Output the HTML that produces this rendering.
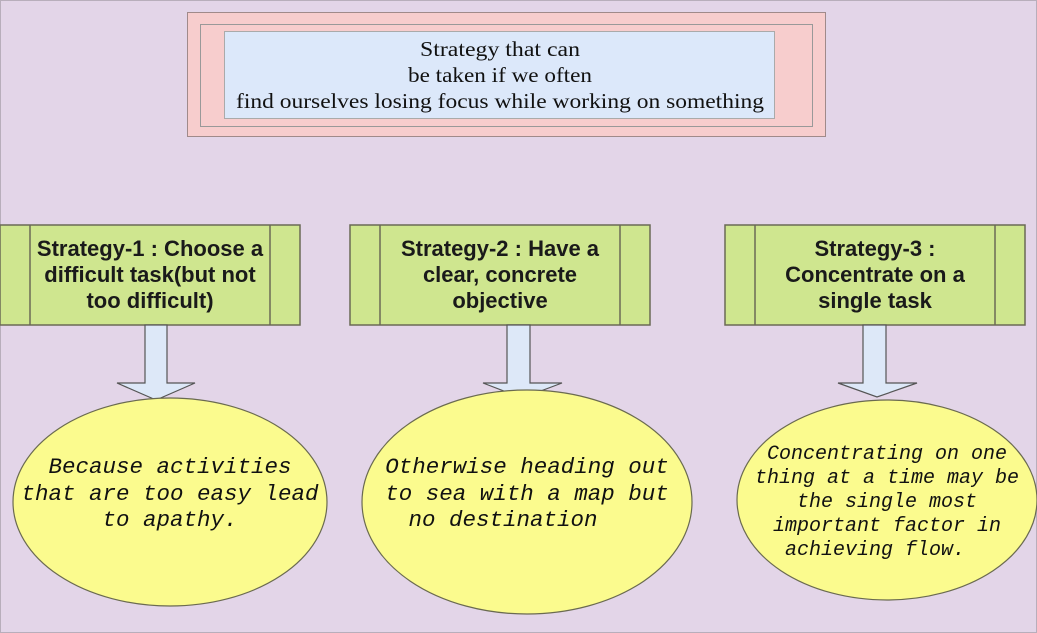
<!DOCTYPE html>
<html><head><meta charset="utf-8"><style>
html,body{margin:0;padding:0;background:#e3d5e8;}
svg{display:block}
</style></head><body>
<svg width="1037" height="633" viewBox="0 0 1037 633" xmlns="http://www.w3.org/2000/svg">
<rect x="0" y="0" width="1037" height="633" fill="#e3d5e8"/>
<rect x="0.5" y="0.5" width="1036" height="632" fill="none" stroke="#b8aebb" stroke-width="1"/>
<!-- top -->
<rect x="187.5" y="12.5" width="638" height="124" fill="#f7cdcd" stroke="#a08a8a"/>
<rect x="200.5" y="24.5" width="612" height="102" fill="none" stroke="#999"/>
<rect x="224.5" y="31.5" width="550" height="87" fill="#dce8fa" stroke="#aaa"/>
<g font-family="Liberation Serif, serif" font-size="21" fill="#111" lengthAdjust="spacingAndGlyphs">
<text x="420" y="56" textLength="160" lengthAdjust="spacingAndGlyphs">Strategy that can</text>
<text x="408" y="82" textLength="184" lengthAdjust="spacingAndGlyphs">be taken if we often</text>
<text x="236" y="108" textLength="528" lengthAdjust="spacingAndGlyphs">find ourselves losing focus while working on something</text>
</g>
<!-- strategy boxes -->
<g fill="#cfe68f" stroke="#6a6a55" stroke-width="1.5">
<rect x="0" y="225" width="300" height="100"/>
<line x1="30" y1="225" x2="30" y2="325"/><line x1="270" y1="225" x2="270" y2="325"/>
<rect x="350" y="225" width="300" height="100"/>
<line x1="380" y1="225" x2="380" y2="325"/><line x1="620" y1="225" x2="620" y2="325"/>
<rect x="725" y="225" width="300" height="100"/>
<line x1="755" y1="225" x2="755" y2="325"/><line x1="995" y1="225" x2="995" y2="325"/>
</g>
<g font-family="Liberation Sans, sans-serif" font-weight="bold" font-size="22" fill="#1a1a1a" text-anchor="middle">
<text x="150" y="256">Strategy-1 : Choose a</text>
<text x="150" y="282">difficult task(but not</text>
<text x="150" y="308">too difficult)</text>
<text x="500" y="256">Strategy-2 : Have a</text>
<text x="500" y="282">clear, concrete</text>
<text x="500" y="308">objective</text>
<text x="875" y="256">Strategy-3 :</text>
<text x="875" y="282">Concentrate on a</text>
<text x="875" y="308">single task</text>
</g>
<!-- arrows -->
<g fill="#dde8f8" stroke="#555" stroke-width="1.2">
<polygon points="145,325 167,325 167,383 195,383 156,400 117,383 145,383"/>
<polygon points="507,325 530,325 530,383 562,383 522,398 483,383 507,383"/>
<polygon points="863,325 886,325 886,383 917,383 877,397 838,383 863,383"/>
</g>
<!-- ellipses -->
<g fill="#fbfb8e" stroke="#6a6a50" stroke-width="1.2">
<ellipse cx="170" cy="502" rx="157" ry="104"/>
<ellipse cx="527" cy="502" rx="165" ry="112"/>
<ellipse cx="887" cy="500" rx="150" ry="100"/>
</g>
<g font-family="Liberation Mono, monospace" font-style="italic" font-size="22.5" fill="#111" text-anchor="middle">
<text x="170" y="473">Because activities</text>
<text x="170" y="500">that are too easy lead</text>
<text x="170" y="526">to apathy.</text>
<text x="527" y="473">Otherwise heading out</text>
<text x="527" y="500">to sea with a map but</text>
<text x="503" y="526">no destination</text>
</g>
<g font-family="Liberation Mono, monospace" font-style="italic" font-size="20" fill="#111" text-anchor="middle">
<text x="887" y="459">Concentrating on one</text>
<text x="887" y="483">thing at a time may be</text>
<text x="887" y="507">the single most</text>
<text x="887" y="531">important factor in</text>
<text x="875" y="555">achieving flow.</text>
</g>
</svg>
</body></html>
